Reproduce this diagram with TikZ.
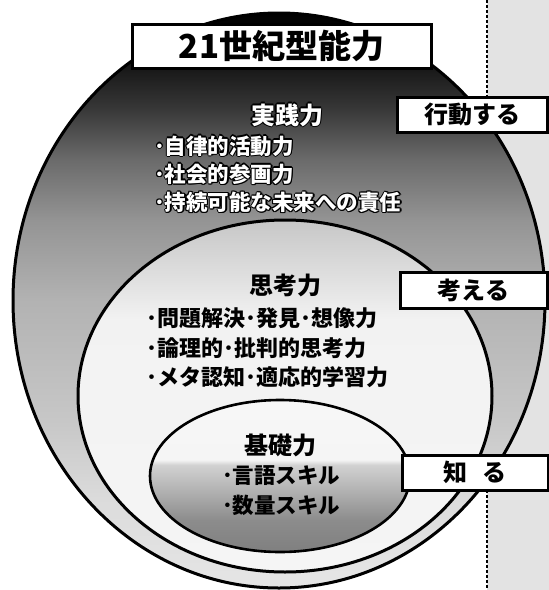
\documentclass[tikz,border=0pt]{standalone}
\usepackage{fontspec}
\newfontfamily\jp{Noto Sans CJK JP}
\usetikzlibrary{calc}

\pgfdeclareverticalshading{outershade}{100bp}{color(0bp)=(black!10); color(25bp)=(black!10); color(32.7bp)=(black!14); color(39.6bp)=(black!22); color(50bp)=(black!30); color(57bp)=(black!42); color(62.2bp)=(black!58); color(66.6bp)=(black!78); color(70.9bp)=(black!93); color(75bp)=(black); color(100bp)=(black)}
\pgfdeclareverticalshading{middleshade}{100bp}{color(0bp)=(black!4); color(25bp)=(black!4); color(60.8bp)=(black!5); color(66.5bp)=(black!12); color(75bp)=(black!22); color(100bp)=(black!22)}
\pgfdeclareverticalshading{innershade}{100bp}{color(0bp)=(black!50); color(25bp)=(black!50); color(35.5bp)=(black!45); color(45.4bp)=(black!30); color(53.6bp)=(black!18); color(55.3bp)=(black!4); color(75bp)=(black!3); color(100bp)=(black!3)}

% white text with a black outline
\newcommand\olt[1]{\leavevmode
  \rlap{\color{black}\kern-1.2pt#1}%
  \rlap{\color{black}\kern1.2pt#1}%
  \rlap{\color{black}\raisebox{1.2pt}{#1}}%
  \rlap{\color{black}\raisebox{-1.2pt}{#1}}%
  \rlap{\color{black}\kern-0.9pt\raisebox{0.9pt}{#1}}%
  \rlap{\color{black}\kern0.9pt\raisebox{0.9pt}{#1}}%
  \rlap{\color{black}\kern-0.9pt\raisebox{-0.9pt}{#1}}%
  \rlap{\color{black}\kern0.9pt\raisebox{-0.9pt}{#1}}%
  {\color{white}#1}}

\tikzset{
  ring/.style={draw=black, line width=3pt, shade},
  labelbox/.style={draw=black, fill=white, line width=3pt, inner sep=0pt,
    font=\jp\bfseries\fontsize{24}{28}\selectfont},
  titlebox/.style={draw=black, fill=white, line width=3pt, inner sep=0pt,
    font=\jp\bfseries\fontsize{33}{38}\selectfont},
  heading/.style={inner sep=0pt, font=\jp\bfseries\fontsize{24}{28}\selectfont},
  item/.style={inner sep=0pt, anchor=west, font=\jp\bfseries\fontsize{22}{26}\selectfont},
  smallitem/.style={item, font=\jp\bfseries\fontsize{21.5}{26}\selectfont},
  dotline/.style={line width=2.6pt, dash pattern=on 2.6pt off 2.4pt}
}

\begin{document}
\begin{tikzpicture}[x=1pt,y=-1pt]
\useasboundingbox (0,0) rectangle (549,590);
% right stippled strip
\fill[black!11] (487,0) rectangle (549,590);
\coordinate (dtop) at (487,0);
\coordinate (dbot) at (487,590);
\draw[dotline] (dtop) -- (dbot);

% nested ellipses
\path[ring, shading=outershade] (279,300.5) ellipse [x radius=266, y radius=287.5];
\path[ring, shading=middleshade] (285,396) ellipse [x radius=207, y radius=176];
\path[ring, line width=2.6pt, shading=innershade] (280,476) ellipse [x radius=130, y radius=76];

% title
\node[titlebox, minimum width=299pt, minimum height=44pt] (title) at (281.5,46) {21世紀型能力};

% side labels
\node[labelbox, minimum width=150pt, minimum height=35pt] (act) at (472,114.5) {行動する};
\node[labelbox, minimum width=147pt, minimum height=36pt] (think) at (473.5,290) {考える};
\node[labelbox, minimum width=146pt, minimum height=35pt] (know) at (475,472.5) {知\hspace{0.6em}る};

% practical ability
\node[heading] (jissen) at (287,115) {\olt{実践力}};
\node[smallitem] (j1) at (154,146) {\olt{･自律的活動力}};
\node[smallitem] (j2) at (154,174) {\olt{･社会的参画力}};
\node[smallitem] (j3) at (154,202) {\olt{･持続可能な未来への責任}};

% thinking ability
\node[heading] (shiko) at (285,285) {思考力};
\node[item] (s1) at (146,318) {･問題解決･発見･想像力};
\node[item] (s2) at (146,348) {･論理的･批判的思考力};
\node[item] (s3) at (146,377) {･メタ認知･適応的学習力};

% basic ability
\node[heading] (kiso) at (280,445) {基礎力};
\node[smallitem] (k1) at (222,476) {･言語スキル};
\node[smallitem] (k2) at (222,505) {･数量スキル};
\end{tikzpicture}
\end{document}
